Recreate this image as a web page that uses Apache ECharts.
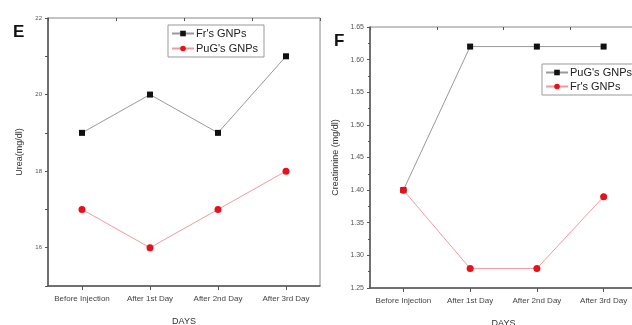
<!DOCTYPE html>
<html>
<head>
<meta charset="utf-8">
<style>
  html, body { margin: 0; padding: 0; background: #fff; }
  #chart { width: 632px; height: 325px; }
</style>
<script src="https://cdn.jsdelivr.net/npm/echarts@6/dist/echarts.min.js"></script>
</head>
<body>
<div id="chart"></div>
<script>
// Sampling days shared by both panels
const days = ['Before Injection', 'After 1st Day', 'After 2nd Day', 'After 3rd Day'];

// Panel E: serum urea (mg/dl)
const ureaFr = [19, 20, 19, 21];
const ureaPuG = [17, 16, 17, 18];

// Panel F: serum creatinine (mg/dl)
const creatPuG = [1.40, 1.62, 1.62, 1.62];
const creatFr = [1.40, 1.28, 1.28, 1.39];

const FONT = '"Liberation Sans", Arial, sans-serif';
const AXIS_DARK = '#555';

function catAxis(gridIndex, withLabels) {
  return {
    type: 'category',
    gridIndex: gridIndex,
    data: days,
    boundaryGap: true,
    name: withLabels ? 'DAYS' : '',
    nameLocation: 'middle',
    nameGap: 31,
    nameTextStyle: { fontFamily: FONT, fontSize: 9, color: '#333' },
    axisLine: { show: withLabels, lineStyle: { color: AXIS_DARK, width: 1.5 } },
    axisTick: withLabels
      ? { show: true, alignWithLabel: true, length: 4, inside: false, lineStyle: { color: AXIS_DARK } }
      : { show: true, interval: 0, length: 3, inside: true, lineStyle: { color: AXIS_DARK } },
    axisLabel: { show: withLabels, fontFamily: FONT, fontSize: 8, color: '#444', margin: 9, interval: 0 },
    splitLine: { show: false }
  };
}

const option = {
  animation: false,
  backgroundColor: '#fff',
  title: [
    { text: 'E', left: 8, top: 19, textStyle: { fontFamily: FONT, fontSize: 17, fontWeight: 'bold', color: '#111' } },
    { text: 'F', left: 329, top: 28, textStyle: { fontFamily: FONT, fontSize: 17, fontWeight: 'bold', color: '#111' } }
  ],
  grid: [
    { left: 48, top: 18, width: 272, height: 268, outerBoundsMode: 'none', containLabel: false,
      show: true, borderColor: '#888', borderWidth: 1, backgroundColor: 'transparent' },
    { left: 370, top: 27, width: 267, height: 261, outerBoundsMode: 'none', containLabel: false,
      show: true, borderColor: '#888', borderWidth: 1, backgroundColor: 'transparent' }
  ],
  legend: [
    {
      data: ["Fr's GNPs", "PuG's GNPs"],
      left: 168, top: 25, orient: 'vertical',
      itemWidth: 22, itemHeight: 7, itemGap: 4,
      padding: [3, 6, 3, 3],
      borderColor: '#999', borderWidth: 1,
      textStyle: { fontFamily: FONT, fontSize: 11, color: '#222', padding: [0, 0, 0, -3] }
    },
    {
      data: ["PuG's GNPs ", "Fr's GNPs "],
      left: 542, top: 64, orient: 'vertical',
      itemWidth: 22, itemHeight: 7, itemGap: 3,
      padding: [3, 6, 3, 3],
      borderColor: '#999', borderWidth: 1,
      textStyle: { fontFamily: FONT, fontSize: 11, color: '#222', padding: [0, 0, 0, -3] }
    }
  ],
  xAxis: [catAxis(0, true), catAxis(0, false), catAxis(1, true), catAxis(1, false)],
  yAxis: [
    {
      type: 'value', gridIndex: 0, min: 15, max: 22, interval: 1,
      name: 'Urea(mg/dl)', nameLocation: 'middle', nameGap: 24, nameRotate: 90,
      nameTextStyle: { fontFamily: FONT, fontSize: 9, color: '#333' },
      axisLine: { show: true, lineStyle: { color: AXIS_DARK, width: 1.5 } },
      axisTick: { show: true, length: 3, lineStyle: { color: AXIS_DARK } },
      axisLabel: {
        fontFamily: FONT, fontSize: 6, color: '#555', margin: 6,
        formatter: v => (v % 2 === 0 && v > 15 ? String(v) : '')
      },
      splitLine: { show: false }
    },
    {
      type: 'value', gridIndex: 1, min: 1.25, max: 1.65, interval: 0.05,
      name: 'Creatinnine (mg/dl)', nameLocation: 'middle', nameGap: 30, nameRotate: 90,
      nameTextStyle: { fontFamily: FONT, fontSize: 9, color: '#333' },
      axisLine: { show: true, lineStyle: { color: AXIS_DARK, width: 1.5 } },
      axisTick: { show: true, length: 3, lineStyle: { color: AXIS_DARK } },
      minorTick: { show: true, splitNumber: 2, length: 2, lineStyle: { color: AXIS_DARK } },
      axisLabel: {
        fontFamily: FONT, fontSize: 7, color: '#555', margin: 6,
        formatter: v => v.toFixed(2)
      },
      splitLine: { show: false }
    }
  ],
  series: [
    {
      name: "Fr's GNPs", type: 'line', xAxisIndex: 0, yAxisIndex: 0, data: ureaFr,
      symbol: 'rect', symbolSize: 6, itemStyle: { color: '#111' },
      lineStyle: { color: '#999', width: 1 }
    },
    {
      name: "PuG's GNPs", type: 'line', xAxisIndex: 0, yAxisIndex: 0, data: ureaPuG,
      symbol: 'circle', symbolSize: 7, itemStyle: { color: '#e8101a' },
      lineStyle: { color: '#f09aa0', width: 1 }
    },
    {
      name: "PuG's GNPs ", type: 'line', xAxisIndex: 2, yAxisIndex: 1, data: creatPuG,
      symbol: 'rect', symbolSize: 6, itemStyle: { color: '#111' },
      lineStyle: { color: '#999', width: 1 }
    },
    {
      name: "Fr's GNPs ", type: 'line', xAxisIndex: 2, yAxisIndex: 1, data: creatFr,
      symbol: 'circle', symbolSize: 7, itemStyle: { color: '#e8101a' },
      lineStyle: { color: '#f09aa0', width: 1 }
    }
  ]
};

const chart = echarts.init(document.getElementById('chart'), null, { renderer: 'canvas' });
chart.setOption(option);
</script>
</body>
</html>
